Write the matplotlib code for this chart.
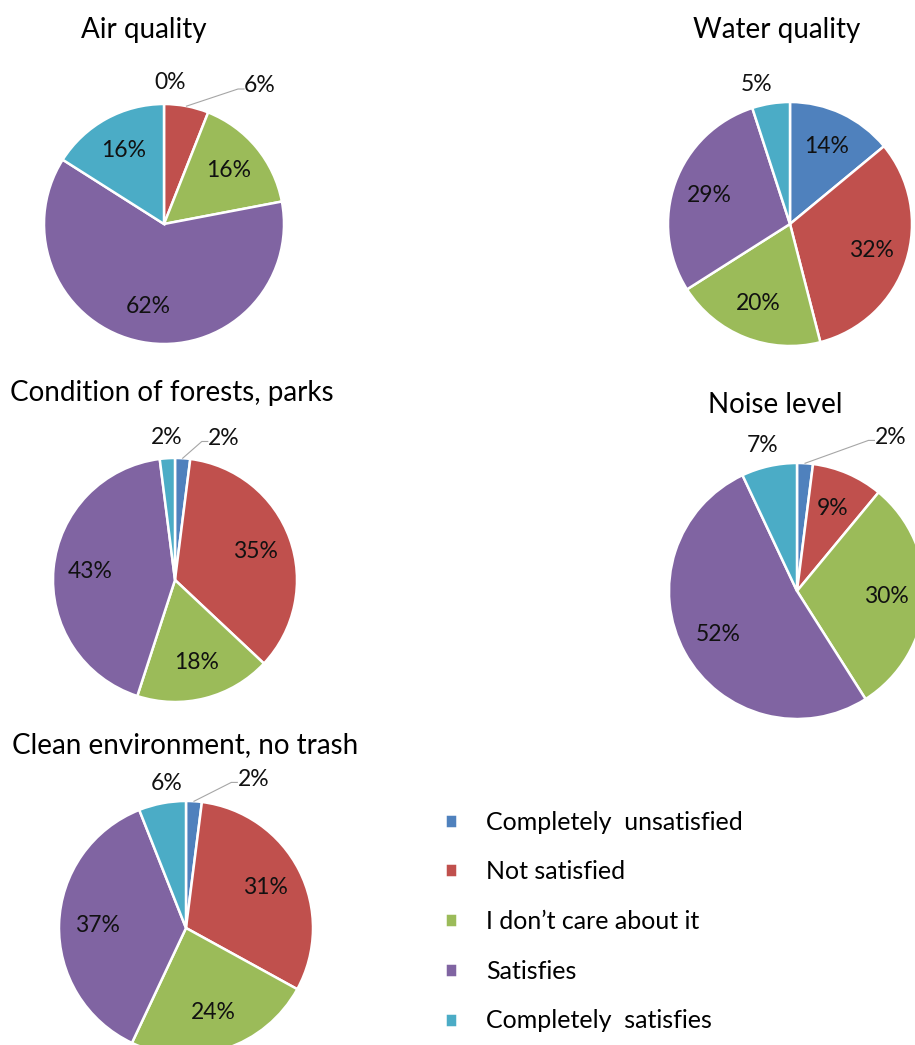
import numpy as np
import matplotlib
matplotlib.use("Agg")
import matplotlib.pyplot as plt

plt.rcParams['font.family'] = ['Lato', 'DejaVu Sans']

# data
categories = ['Completely  unsatisfied', 'Not satisfied', 'I don\u2019t care about it',
              'Satisfies', 'Completely  satisfies']
colors = ['#4F81BD', '#C0504D', '#9BBB59', '#8064A2', '#4BACC6']

titles = ['Air quality', 'Water quality', 'Condition of forests, parks',
          'Noise level', 'Clean environment, no trash']
air_quality = [0, 6, 16, 62, 16]
water_quality = [14, 32, 20, 29, 5]
forests_parks = [2, 35, 18, 43, 2]
noise_level = [2, 9, 30, 52, 7]
clean_env = [2, 31, 24, 37, 6]
all_values = [air_quality, water_quality, forests_parks, noise_level, clean_env]

# layout in pixels (y measured from the top of the picture)
W, H = 915, 1045
pie_centers = [(164, 224), (790, 224), (175, 580), (797, 591), (186, 928)]
pie_radius = [120, 122, 122, 128, 127]
title_pos = [(144, 30), (777, 30), (172, 393), (775, 405), (185, 745)]
# labels drawn outside the pie: slice index -> (dx, dy) in radius units, leader line?
outside = [
    {0: (0.05, 1.18, False), 1: (0.80, 1.15, True)},
    {4: (-0.27, 1.14, False)},
    {0: (0.40, 1.16, True), 4: (-0.07, 1.17, False)},
    {0: (0.73, 1.20, True), 4: (-0.27, 1.14, False)},
    {0: (0.53, 1.17, True), 4: (-0.15, 1.14, False)},
]

fig = plt.figure(figsize=(W / 100, H / 100), dpi=100)
ax = fig.add_axes([0, 0, 1, 1])

wedges_first = None
for i, vals in enumerate(all_values):
    cx, cy = pie_centers[i]
    cy = H - cy
    r = pie_radius[i]
    wedges, _ = ax.pie(vals, colors=colors, startangle=90, counterclock=False,
                       center=(cx, cy), radius=r,
                       wedgeprops=dict(edgecolor='white', linewidth=1.8))
    if wedges_first is None:
        wedges_first = wedges
    for j, w in enumerate(wedges):
        mid = np.radians((w.theta1 + w.theta2) / 2)
        lbl = f'{vals[j]}%'
        if j in outside[i]:
            dx, dy, leader = outside[i][j]
            tx, ty = cx + dx * r, cy + dy * r
            if leader:
                ex, ey = cx + r * np.cos(mid), cy + r * np.sin(mid)
                ax.plot([ex, tx - 22, tx - 16], [ey, ty - 3, ty - 3],
                        color='#a6a6a6', lw=0.8)
            ax.text(tx, ty, lbl, ha='center', va='center', fontsize=16.5, color='#111111')
        else:
            tx, ty = cx + 0.7 * r * np.cos(mid), cy + 0.7 * r * np.sin(mid)
            ax.text(tx, ty, lbl, ha='center', va='center', fontsize=16.5, color='#111111')
    tx, ty = title_pos[i]
    ax.text(tx, H - ty, titles[i], ha='center', va='center', fontsize=20, color='black')

ax.set_xlim(0, W)
ax.set_ylim(0, H)
ax.set_aspect('equal')
ax.axis('off')

leg = ax.legend(wedges_first, categories, loc='upper left',
                bbox_to_anchor=(422 / W, 1 - 788 / H), frameon=False,
                fontsize=18, handlelength=0.48, handleheight=0.48,
                handletextpad=1.2, labelspacing=1.07)

fig.savefig('out.png', dpi=100, facecolor='white')
